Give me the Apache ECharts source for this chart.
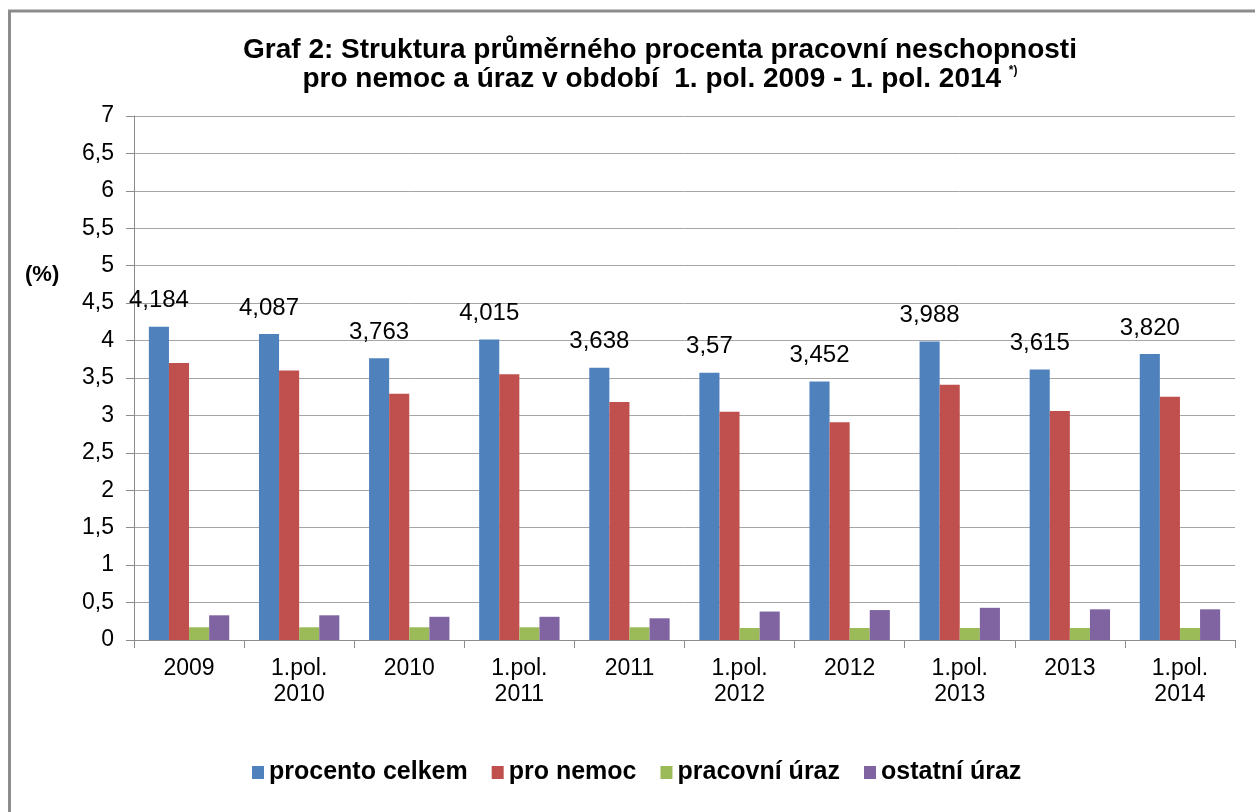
<!DOCTYPE html>
<html>
<head>
<meta charset="utf-8">
<script src="https://cdn.jsdelivr.net/npm/echarts@6/dist/echarts.min.js"></script>
<style>
html,body{margin:0;padding:0;background:#fff;}
#chart{width:1255px;height:812px;}
</style>
</head>
<body>
<div id="chart"></div>
<script>
var categories = ['2009', '1.pol.\n2010', '2010', '1.pol.\n2011', '2011', '1.pol.\n2012', '2012', '1.pol.\n2013', '2013', '1.pol.\n2014'];
var seriesNames = ['procento celkem', 'pro nemoc', 'pracovní úraz', 'ostatní úraz'];
var celkem = [4.184, 4.087, 3.763, 4.015, 3.638, 3.57, 3.452, 3.988, 3.615, 3.820];
var celkemLabels = ['4,184', '4,087', '3,763', '4,015', '3,638', '3,57', '3,452', '3,988', '3,615', '3,820'];
var nemoc = [3.70, 3.60, 3.29, 3.55, 3.18, 3.05, 2.91, 3.41, 3.06, 3.25];
var pracovni = [0.17, 0.17, 0.17, 0.17, 0.17, 0.16, 0.16, 0.16, 0.16, 0.16];
var ostatni = [0.33, 0.33, 0.31, 0.31, 0.29, 0.38, 0.40, 0.43, 0.41, 0.41];
var yTicks = ['0', '0,5', '1', '1,5', '2', '2,5', '3', '3,5', '4', '4,5', '5', '5,5', '6', '6,5', '7'];

var FONT = "'Liberation Sans', Arial, sans-serif";
var chart = echarts.init(document.getElementById('chart'));
var colors = ['#4f81bd', '#c0504d', '#9bbb59', '#8064a2'];
var values = [celkem, nemoc, pracovni, ostatni];

var series = seriesNames.map(function (n, i) {
  var s = {
    name: n,
    type: 'bar',
    data: values[i],
    barGap: '0%',
    barCategoryGap: '27%',
    itemStyle: { color: colors[i] },
    emphasis: { disabled: true }
  };
  if (i === 0) {
    s.label = {
      show: true,
      position: 'top',
      distance: 14,
      fontFamily: FONT,
      fontSize: 24,
      color: '#000',
      formatter: function (p) { return celkemLabels[p.dataIndex]; }
    };
  }
  return s;
});

chart.setOption({
  animation: false,
  backgroundColor: '#fff',
  color: colors,
  title: {
    text: 'Graf 2: Struktura průměrného procenta pracovní neschopnosti\n{m|pro nemoc a úraz v období  1. pol. 2009 - 1. pol. 2014 }{s|*)}',
    left: 655,
    textAlign: 'center',
    top: 31,
    textStyle: {
      fontFamily: FONT,
      fontWeight: 'bold',
      fontSize: 28,
      lineHeight: 29,
      color: '#000',
      rich: {
        m: { fontFamily: FONT, fontWeight: 'bold', fontSize: 28, lineHeight: 29, color: '#000' },
        s: { fontFamily: FONT, fontWeight: 'bold', fontSize: 12, lineHeight: 29, color: '#000', verticalAlign: 'top', padding: [0, 0, 14, 0] }
      }
    }
  },
  legend: {
    data: seriesNames,
    left: 247,
    top: 755,
    icon: 'rect',
    itemWidth: 12,
    itemHeight: 13,
    itemGap: 24,
    textStyle: { fontFamily: FONT, fontWeight: 'bold', fontSize: 25, color: '#000' }
  },
  grid: { left: 134, right: 20, top: 116, bottom: 172, containLabel: false },
  xAxis: {
    type: 'category',
    data: categories,
    axisLine: { show: true, lineStyle: { color: '#8c8c8c', width: 1 } },
    axisTick: { show: true, length: 8, lineStyle: { color: '#8c8c8c' } },
    axisLabel: { fontFamily: FONT, fontSize: 23, color: '#000', margin: 16, lineHeight: 26, interval: 0 }
  },
  yAxis: {
    type: 'value',
    min: 0,
    max: 7,
    interval: 0.5,
    axisLine: { show: true, lineStyle: { color: '#8c8c8c', width: 1 } },
    axisTick: { show: true, length: 8, lineStyle: { color: '#8c8c8c' } },
    splitLine: { show: true, lineStyle: { color: '#a6a6a6', width: 1 } },
    axisLabel: {
      fontFamily: FONT, fontSize: 23, color: '#000', margin: 20,
      formatter: function (v) { return yTicks[Math.round(v * 2)]; }
    }
  },
  graphic: [
    { type: 'line', shape: { x1: 8, y1: 11, x2: 1255, y2: 11 }, style: { stroke: '#8c8c8c', lineWidth: 3 } },
    { type: 'line', shape: { x1: 9.5, y1: 10, x2: 9.5, y2: 812 }, style: { stroke: '#8c8c8c', lineWidth: 3 } },
    { type: 'text', left: 25, top: 264, style: { text: '(%)', fontFamily: FONT, fontWeight: 'bold', fontSize: 22, fill: '#000' } }
  ],
  series: series
});
</script>
</body>
</html>
